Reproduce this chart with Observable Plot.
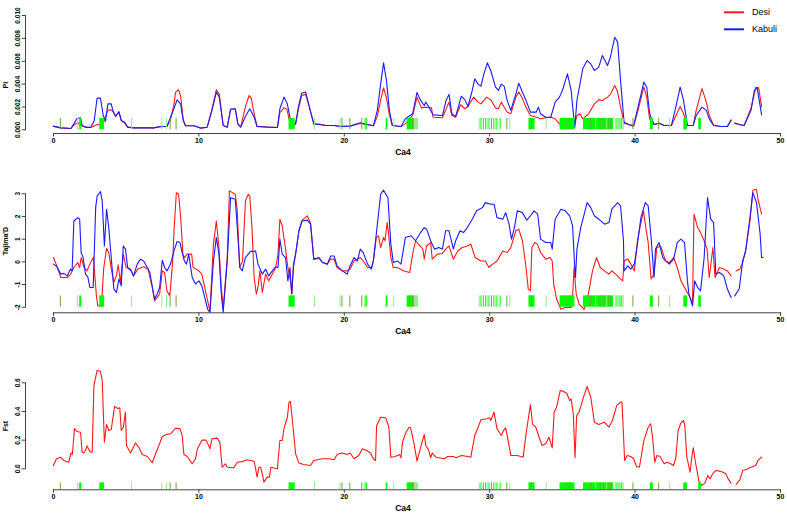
<!DOCTYPE html>
<html><head><meta charset="utf-8">
<script src="https://cdn.jsdelivr.net/npm/d3@7"></script>
<script src="https://cdn.jsdelivr.net/npm/@observablehq/plot@0.6"></script>
<style>
body{margin:0;background:#fff;}
#wrap{position:relative;width:787px;height:515px;overflow:hidden;background:#fff;}
#wrap svg{display:block;}
#legend{position:absolute;left:0;top:0;}
</style></head><body><div id="wrap"></div>
<script>
// ---------------- data ----------------
const xTicks = [0, 10, 20, 30, 40, 50];
const piTicks = [0, 2, 4, 6, 8, 10];          // Pi x 1000
const tdTicks = [-2, -1, 0, 1, 2, 3];
const fstTicks = [0, 0.2, 0.4, 0.6];
const seriesNames = ["Desi", "Kabuli"];
const seriesColors = ["#ff1a1a", "#1a1aff"];
const xLabel = "Ca4";
const panelLabels = ["Pi", "Tajima'D", "Fst"];

// Pi (x 1000) along Ca4 (Mb)
const piDesi = [[0,0.3],[0.5,0.17],[1.2,0.12],[1.4,0.4],[1.6,0.58],[1.86,0.6],[1.97,0.35],[2.2,0.23],[2.55,0.2],[2.8,0.35],[3.0,0.45],[3.23,0.47],[3.42,0.5],[3.58,1.2],[3.74,1.7],[3.97,1.75],[4.08,1.6],[4.27,1.2],[4.5,1.6],[4.66,0.82],[4.89,0.6],[5.1,0.23],[5.5,0.17],[6.9,0.17],[7.36,0.28],[7.8,0.3],[8.05,0.9],[8.28,2.2],[8.4,3.3],[8.6,3.5],[8.74,3.0],[8.92,0.9],[9.08,0.35],[9.66,0.35],[10.1,0.15],[10.57,0.23],[10.9,1.8],[11.2,3.5],[11.4,3.1],[11.67,0.4],[11.95,0.23],[12.18,1.8],[12.5,1.84],[12.68,0.52],[12.87,0.23],[13.2,2.0],[13.45,3.0],[13.6,2.8],[13.8,1.4],[14.0,0.3],[14.7,0.25],[15.4,0.2],[15.57,1.5],[15.85,1.92],[16.05,1.8],[16.26,0.6],[16.4,0.3],[16.65,0.5],[16.84,1.8],[17.07,3.0],[17.34,3.1],[17.57,2.1],[17.9,0.52],[18.26,0.5],[18.7,0.4],[19.3,0.38],[19.75,0.3],[20.4,0.33],[21.1,0.55],[21.6,0.45],[22.0,0.35],[22.27,1.2],[22.5,2.6],[22.7,3.67],[22.9,2.8],[23.1,1.3],[23.3,0.38],[23.9,0.29],[24.2,0.52],[24.7,1.25],[25.0,2.86],[25.3,1.92],[25.5,1.98],[26.0,1.92],[26.1,1.1],[26.75,1.05],[27.2,2.42],[27.4,1.25],[27.66,1.1],[28.0,2.19],[28.3,1.84],[28.5,2.04],[28.9,2.86],[29.2,2.42],[29.4,2.27],[29.8,2.86],[30.1,2.57],[30.4,1.92],[30.6,1.84],[30.8,2.42],[31.0,1.98],[31.2,1.55],[31.45,1.4],[31.8,2.86],[32.0,3.3],[32.2,2.86],[32.5,1.98],[32.8,1.25],[33.2,1.1],[33.5,0.96],[33.85,1.05],[34.2,1.1],[34.5,0.96],[34.8,0.52],[35.35,0.67],[35.6,0.5],[35.85,0.45],[36.0,1.25],[36.2,1.4],[36.4,0.96],[36.8,1.4],[37.2,2.27],[37.5,2.62],[37.75,2.57],[38.1,2.86],[38.3,3.1],[38.6,3.88],[38.8,3.3],[39.0,1.98],[39.24,0.58],[39.6,0.44],[39.9,0.3],[40.2,1.7],[40.6,3.73],[40.8,2.86],[41.0,0.96],[41.3,0.47],[41.65,0.58],[42.0,0.38],[42.5,0.38],[42.8,1.2],[43.1,2.04],[43.33,1.4],[43.6,0.38],[44.0,0.4],[44.2,1.7],[44.6,3.6],[44.9,2.42],[45.1,1.25],[45.4,0.4],[45.9,0.29],[46.35,0.3],[46.6,0.88],[46.72,null],[46.85,0.6],[47.16,0.47],[47.5,0.38],[48.0,2.0],[48.3,3.73],[48.5,3.67],[48.7,2.0]];
const piKabuli = [[0,0.32],[0.5,0.17],[1.2,0.12],[1.4,0.52],[1.6,0.96],[1.86,1.05],[1.97,0.38],[2.2,0.23],[2.55,0.2],[2.8,0.8],[3.0,2.77],[3.23,2.77],[3.42,1.25],[3.58,0.76],[3.74,2.27],[3.97,2.27],[4.08,1.7],[4.27,1.17],[4.5,1.55],[4.66,0.82],[4.89,0.67],[5.1,0.23],[5.5,0.17],[6.9,0.17],[7.36,0.29],[7.8,0.29],[8.05,1.1],[8.28,1.84],[8.5,2.62],[8.74,2.27],[8.92,0.82],[9.08,0.35],[9.66,0.35],[10.1,0.15],[10.57,0.23],[10.9,1.7],[11.2,3.3],[11.4,2.86],[11.67,0.38],[11.95,0.23],[12.18,1.8],[12.5,1.84],[12.68,0.52],[12.87,0.23],[13.2,1.17],[13.5,1.84],[13.8,1.1],[14.0,0.29],[14.7,0.23],[15.4,0.2],[15.57,1.84],[15.85,2.86],[16.08,2.27],[16.26,1.1],[16.4,0.38],[16.65,0.52],[16.84,1.98],[17.07,3.2],[17.34,3.3],[17.57,2.13],[17.9,0.52],[18.26,0.47],[18.7,0.38],[19.3,0.38],[19.75,0.29],[20.4,0.32],[21.1,0.61],[21.6,0.47],[22.0,0.35],[22.27,1.7],[22.5,4.0],[22.7,5.86],[22.9,4.3],[23.1,1.7],[23.3,0.38],[23.9,0.29],[24.2,0.96],[24.7,1.4],[25.0,3.27],[25.25,2.57],[25.5,2.13],[25.6,2.42],[25.8,2.04],[26.1,1.31],[26.75,1.25],[27.0,2.57],[27.2,3.1],[27.4,1.4],[27.66,1.17],[27.9,2.27],[28.05,2.94],[28.3,2.62],[28.5,2.04],[28.8,3.44],[28.97,4.46],[29.2,4.0],[29.4,3.82],[29.6,4.9],[29.84,5.86],[30.07,5.19],[30.4,3.73],[30.6,3.44],[30.8,4.0],[31.0,3.8],[31.2,2.57],[31.45,1.7],[31.8,3.15],[32.0,4.08],[32.2,3.44],[32.5,2.57],[32.8,1.55],[33.2,1.55],[33.35,1.98],[33.5,1.4],[33.85,1.1],[34.2,1.1],[34.5,2.42],[34.8,2.86],[35.0,3.44],[35.35,4.9],[35.6,3.44],[35.85,0.2],[36.0,2.57],[36.4,5.34],[36.7,6.06],[36.95,5.77],[37.2,5.19],[37.5,5.48],[37.75,6.5],[38.1,5.63],[38.3,6.35],[38.6,8.1],[38.8,7.67],[39.0,4.3],[39.24,0.67],[39.6,0.44],[39.9,0.38],[40.2,1.98],[40.6,4.17],[40.8,3.73],[41.0,1.4],[41.3,0.47],[41.65,0.58],[42.0,0.38],[42.5,0.38],[42.8,1.98],[43.1,3.73],[43.33,2.57],[43.6,0.38],[44.0,0.38],[44.2,1.25],[44.6,1.98],[44.9,1.7],[45.1,0.96],[45.4,0.38],[45.9,0.29],[46.35,0.29],[46.6,0.82],[46.72,null],[46.85,0.58],[47.16,0.47],[47.5,0.38],[47.97,1.7],[48.2,3.44],[48.4,3.67],[48.5,2.86],[48.7,1.3]];

// Tajima's D
const tdDesi = [[0,0.19],[0.25,-0.22],[0.5,-0.69],[0.94,-0.69],[1.17,-0.55],[1.4,-0.25],[1.67,-0.03],[1.8,-0.25],[1.9,0.19],[2.1,-0.25],[2.3,-0.4],[2.5,-0.1],[2.75,0.2],[2.95,-1.5],[3.05,-1.95],[3.3,-1.95],[3.45,-0.3],[3.65,0.6],[3.8,0.4],[4.0,-0.4],[4.15,-0.9],[4.33,-0.6],[4.45,-0.13],[4.6,-0.9],[4.8,0.34],[5.0,-0.25],[5.3,-0.32],[5.5,-0.62],[5.8,-0.32],[6.2,-0.22],[6.5,-0.32],[6.8,-1.13],[6.95,-1.72],[7.13,-1.57],[7.3,-1.42],[7.48,-0.4],[7.64,-0.47],[7.8,-1.28],[8.0,-1.5],[8.2,0.04],[8.3,1.51],[8.45,3.05],[8.6,2.98],[8.75,1.95],[8.9,0.34],[9.0,0.19],[9.2,0.34],[9.5,0.34],[9.6,-0.25],[9.8,-0.32],[10.0,-0.4],[10.2,-0.54],[10.4,-1.13],[10.6,-1.72],[10.76,-2.16],[11.0,0.78],[11.2,1.8],[11.38,0.63],[11.54,-1.13],[11.67,-2.0],[11.77,-1.28],[11.95,0.19],[12.1,3.13],[12.5,2.98],[12.64,2.25],[12.8,-0.25],[13.0,0.04],[13.2,2.69],[13.4,2.98],[13.5,2.9],[13.65,1.51],[13.8,-0.69],[13.95,-1.42],[14.06,-1.13],[14.2,-0.4],[14.36,-1.35],[14.59,-0.54],[14.8,-0.84],[15.05,-0.54],[15.28,-0.25],[15.44,0.34],[15.57,1.88],[15.73,1.59],[15.96,0.56],[16.12,-0.25],[16.3,-0.84],[16.4,-1.42],[16.5,-0.1],[16.65,0.34],[16.88,1.37],[17.1,1.84],[17.45,2.03],[17.68,1.7],[17.9,0.12],[18.26,0.15],[18.5,-0.03],[18.83,-0.1],[19.06,0.12],[19.3,0.12],[19.5,-0.25],[19.86,-0.4],[20.2,-0.4],[20.4,-0.32],[20.67,0.04],[21.1,0.19],[21.3,0.04],[21.6,-0.25],[21.86,-0.25],[22.0,0.04],[22.2,1.07],[22.35,1.15],[22.5,0.63],[22.7,1.07],[22.8,0.93],[22.95,1.73],[23.05,1.22],[23.2,0.19],[23.37,-0.25],[23.65,-0.25],[24.1,-0.4],[24.5,-0.47],[24.7,0.34],[24.9,0.93],[25.1,0.78],[25.4,0.56],[25.5,0.12],[25.66,0.7],[25.94,0.85],[26.05,0.12],[26.4,0.34],[26.75,0.37],[26.97,0.56],[27.2,0.7],[27.5,0.12],[27.8,0.48],[28.1,0.63],[28.46,0.7],[28.7,0.78],[29.0,0.19],[29.4,0.04],[29.7,0.04],[29.95,-0.25],[30.2,-0.1],[30.5,0.04],[30.9,0.48],[31.2,0.41],[31.45,0.63],[31.8,1.37],[32.0,1.44],[32.25,0.93],[32.5,-0.25],[32.65,-1.2],[32.8,-1.28],[32.9,0.63],[33.1,0.85],[33.28,0.78],[33.5,0.41],[33.85,0.12],[34.15,0.19],[34.3,0.04],[34.4,-0.98],[34.6,-1.64],[34.9,-2.09],[35.2,-2.01],[35.6,-2.01],[35.7,-1.57],[35.8,-0.25],[35.95,-1.42],[36.15,-1.86],[36.5,-2.09],[36.7,-1.72],[37.07,-0.4],[37.35,0.19],[37.6,-0.25],[37.9,-0.4],[38.2,-0.54],[38.4,-0.4],[38.8,-0.62],[39.0,-0.76],[39.15,-0.84],[39.24,0.04],[39.5,0.12],[39.7,-0.1],[39.95,-0.4],[40.16,0.93],[40.4,1.73],[40.58,2.25],[40.7,1.66],[40.9,0.85],[41.1,-0.76],[41.3,-0.54],[41.5,0.63],[41.75,0.7],[42.1,0.04],[42.35,-0.03],[42.65,0.19],[42.9,-0.25],[43.15,-0.84],[43.4,-1.13],[43.65,-1.42],[43.95,-1.79],[44.05,2.1],[44.3,1.51],[44.5,1.29],[44.75,0.93],[44.95,0.56],[45.1,-0.69],[45.35,0.63],[45.5,-0.69],[45.8,-0.25],[46.1,-0.32],[46.35,-0.4],[46.6,-0.62],[46.72,null],[46.95,-0.4],[47.2,-0.32],[47.4,-0.03],[47.6,0.48],[47.9,1.8],[48.1,3.16],[48.35,3.2],[48.45,2.76],[48.7,2.1]];
const tdKabuli = [[0,-0.1],[0.25,-0.22],[0.5,-0.54],[0.7,-0.51],[0.94,-0.62],[1.17,-0.32],[1.28,-0.4],[1.4,1.8],[1.67,1.95],[1.8,1.88],[1.9,0.41],[2.04,0.19],[2.2,-0.54],[2.36,-0.66],[2.5,-1.13],[2.73,-1.13],[2.9,2.39],[3.0,2.9],[3.23,3.1],[3.35,2.69],[3.5,0.7],[3.65,2.32],[3.8,1.51],[3.97,0.19],[4.15,-1.2],[4.33,-1.35],[4.5,-0.76],[4.66,-1.06],[4.8,0.7],[4.95,0.56],[5.1,-0.25],[5.34,-0.4],[5.5,-0.62],[5.76,-0.1],[5.99,0.12],[6.2,0.04],[6.45,-0.25],[6.63,-0.47],[6.8,-1.13],[6.95,-1.64],[7.13,-1.42],[7.3,-1.13],[7.48,0.07],[7.64,-0.25],[7.8,-0.4],[8.05,-0.1],[8.28,0.48],[8.5,0.9],[8.7,0.85],[8.85,0.41],[9.0,0.04],[9.15,-0.1],[9.3,0.34],[9.54,-0.69],[9.77,-0.98],[10.0,-0.84],[10.2,-1.06],[10.46,-1.72],[10.6,-2.09],[10.76,-2.23],[11.0,0.04],[11.2,1.07],[11.38,0.34],[11.54,-1.42],[11.67,-2.23],[11.77,-1.42],[11.95,0.04],[12.18,2.83],[12.5,2.76],[12.64,1.51],[12.82,-0.25],[12.98,-0.4],[13.2,0.19],[13.55,0.46],[13.9,0.48],[14.06,-0.1],[14.36,-0.54],[14.59,-0.32],[14.8,-0.62],[15.05,-0.4],[15.28,-0.22],[15.44,-0.25],[15.57,1.0],[15.73,0.34],[15.96,0.19],[16.12,-0.84],[16.26,-0.25],[16.38,-1.42],[16.5,-0.25],[16.65,0.34],[16.88,1.37],[17.1,1.8],[17.45,1.84],[17.68,1.66],[17.9,0.12],[18.26,0.19],[18.5,-0.03],[18.83,-0.1],[19.06,0.26],[19.3,0.26],[19.5,-0.18],[19.86,-0.4],[20.2,-0.54],[20.4,-0.18],[20.67,0.19],[20.9,0.04],[21.1,0.56],[21.3,0.41],[21.6,-0.1],[21.86,-0.32],[22.0,0.04],[22.2,1.22],[22.5,2.98],[22.7,3.16],[23.0,2.83],[23.2,0.78],[23.37,-0.03],[23.65,0.04],[23.9,-0.1],[24.2,1.07],[24.6,1.15],[24.9,0.93],[25.25,1.29],[25.5,1.51],[25.66,1.44],[25.94,0.93],[26.2,0.56],[26.5,0.63],[26.75,0.56],[26.97,1.37],[27.2,1.37],[27.5,0.56],[27.66,0.93],[27.96,1.37],[28.2,1.29],[28.46,1.51],[28.8,1.88],[29.1,2.25],[29.5,2.39],[29.7,2.61],[30.07,2.54],[30.3,2.54],[30.5,1.95],[30.9,1.88],[31.1,2.17],[31.33,1.66],[31.5,1.0],[31.7,1.51],[31.9,2.25],[32.25,2.17],[32.55,1.84],[32.8,2.03],[33.05,2.25],[33.3,2.1],[33.5,1.0],[33.85,0.85],[34.2,0.85],[34.3,0.56],[34.5,1.88],[34.9,2.32],[35.2,2.25],[35.5,2.03],[35.7,1.59],[35.85,-0.25],[35.9,-0.69],[36.0,0.56],[36.26,1.51],[36.5,2.1],[36.7,2.61],[36.95,2.39],[37.2,2.03],[37.5,1.88],[37.9,1.66],[38.2,1.73],[38.4,2.32],[38.8,2.61],[39.0,2.47],[39.2,0.93],[39.24,-0.4],[39.5,-0.18],[39.7,-0.32],[39.95,-0.1],[40.16,0.78],[40.4,1.95],[40.7,2.61],[40.9,2.47],[41.1,1.07],[41.3,-0.69],[41.4,0.56],[41.65,0.85],[41.9,0.19],[42.1,0.04],[42.35,-0.1],[42.65,0.12],[42.9,0.85],[43.15,1.0],[43.4,0.85],[43.6,-0.84],[43.7,-1.42],[43.95,-1.94],[44.1,-0.84],[44.3,-1.13],[44.5,-1.28],[44.75,0.19],[44.98,2.83],[45.2,1.88],[45.4,1.73],[45.55,-0.54],[45.8,-0.47],[46.1,-0.62],[46.35,-1.2],[46.6,-1.57],[46.72,null],[46.85,-1.5],[47.16,-1.2],[47.4,0.04],[47.6,0.48],[47.9,1.95],[48.1,3.05],[48.35,2.61],[48.6,1.22],[48.7,0.19],[48.8,0.19]];

// Fst
const fst = [[0,0.023],[0.2,0.07],[0.5,0.08],[0.7,0.058],[1.05,0.046],[1.2,0.11],[1.3,0.1],[1.44,0.28],[1.63,0.26],[1.86,0.255],[1.97,0.116],[2.09,0.11],[2.2,0.13],[2.3,0.16],[2.5,0.12],[2.66,0.116],[2.78,0.58],[3.0,0.686],[3.23,0.68],[3.35,0.616],[3.5,0.186],[3.65,0.31],[3.8,0.267],[3.97,0.274],[4.2,0.435],[4.43,0.42],[4.56,0.425],[4.66,0.267],[4.8,0.29],[4.95,0.395],[5.02,0.163],[5.3,0.11],[5.64,0.18],[5.87,0.15],[6.1,0.1],[6.45,0.086],[6.8,0.042],[7.0,0.1],[7.25,0.163],[7.48,0.225],[7.78,0.24],[8.05,0.244],[8.4,0.283],[8.7,0.28],[8.85,0.232],[8.97,0.1],[9.2,0.086],[9.54,0.035],[9.77,0.07],[9.9,0.14],[10.2,0.2],[10.5,0.2],[10.76,0.14],[10.9,0.21],[11.26,0.214],[11.44,0.186],[11.6,0.011],[11.83,0.035],[11.95,0.011],[12.4,0.007],[12.64,0.046],[12.98,0.05],[13.3,0.063],[13.8,0.053],[13.88,0.011],[14.0,-0.058],[14.13,0.011],[14.24,0.011],[14.36,-0.035],[14.47,-0.093],[14.7,-0.058],[14.85,-0.058],[14.95,0.011],[15.16,0.005],[15.4,0],[15.57,0.197],[15.73,0.197],[15.87,0.29],[16.08,0.356],[16.2,0.465],[16.3,0.47],[16.5,0.267],[16.65,0.104],[16.88,0.04],[17.2,0.03],[17.68,0.023],[17.9,0.058],[18.5,0.07],[18.95,0.07],[19.3,0.063],[19.5,0.1],[19.86,0.11],[20.2,0.1],[20.4,0.11],[20.67,0.07],[21.0,0.093],[21.24,0.14],[21.54,0.128],[21.8,0.11],[22.0,0.07],[22.15,0.058],[22.22,0.3],[22.5,0.36],[22.85,0.356],[23.07,0.29],[23.2,0.08],[23.5,0.086],[23.8,0.1],[23.9,0.077],[24.0,0.186],[24.2,0.244],[24.45,0.29],[24.56,0.286],[24.8,0.174],[25.0,0.053],[25.25,0.15],[25.5,0.24],[25.6,0.163],[25.8,0.132],[25.94,0.077],[26.05,0.11],[26.3,0.081],[26.9,0.07],[27.1,0.086],[27.5,0.086],[27.7,0.077],[28.05,0.093],[28.5,0.086],[28.7,0.081],[28.97,0.232],[29.2,0.29],[29.4,0.342],[29.8,0.349],[30.0,0.356],[30.07,0.337],[30.3,0.395],[30.5,0.279],[30.8,0.232],[30.95,0.267],[31.1,0.286],[31.27,0.197],[31.45,0.093],[31.9,0.093],[32.3,0.081],[32.5,0.244],[32.8,0.448],[32.94,0.314],[33.17,0.29],[33.4,0.22],[33.6,0.163],[33.85,0.174],[34.08,0.22],[34.3,0.146],[34.43,0.395],[34.6,0.43],[34.85,0.546],[35.07,0.54],[35.3,0.527],[35.5,0.476],[35.6,0.488],[35.75,0.383],[35.87,0.077],[35.98,0.372],[36.15,0.395],[36.45,0.5],[36.7,0.574],[36.95,0.5],[37.2,0.325],[37.5,0.309],[37.87,0.325],[38.2,0.29],[38.44,0.337],[38.74,0.442],[39.0,0.465],[39.1,0.465],[39.28,0.058],[39.45,0.093],[39.7,0.086],[39.9,0.07],[40.1,0.016],[40.3,0.011],[40.6,0.197],[40.9,0.29],[41.07,0.314],[41.2,0.22],[41.35,0.046],[41.5,0.093],[41.72,0.086],[42.0,0.035],[42.2,0.046],[42.45,0.035],[42.64,0.023],[42.8,0.077],[42.96,0.267],[43.14,0.318],[43.33,0.337],[43.42,0.302],[43.55,0.086],[43.78,-0.023],[43.9,0.081],[44.0,0.146],[44.17,0.035],[44.4,-0.093],[44.6,-0.116],[44.8,-0.1],[45.0,-0.047],[45.16,-0.07],[45.33,-0.035],[45.55,-0.012],[45.8,-0.016],[46.0,-0.023],[46.24,-0.035],[46.4,-0.07],[46.6,-0.1],[46.72,null],[46.95,-0.109],[47.2,-0.077],[47.4,-0.012],[47.6,-0.007],[47.97,0.011],[48.3,0.023],[48.45,0.058],[48.7,0.081]];

// green marker ticks along Ca4: [start, end, shade] (b bright, l light, o olive)
const markers = [[0.47,0.54,"o"],[1.64,1.71,"l"],[1.80,1.95,"b"],[3.18,3.52,"b"],[5.37,5.44,"l"],[7.45,7.52,"l"],[7.77,7.84,"l"],[8.02,8.09,"o"],[8.43,8.5,"o"],[16.2,16.62,"b"],[17.95,18.02,"l"],[19.7,19.77,"l"],[19.84,19.91,"o"],[20.38,20.45,"o"],[21.2,21.27,"o"],[21.43,21.5,"b"],[21.54,21.61,"b"],[22.88,23.0,"b"],[23.4,23.47,"l"],[24.32,24.85,"b"],[24.5,24.56,"o"],[24.7,24.76,"o"],[24.85,25.1,"l"],[29.28,29.35,"l"],[29.4,29.47,"b"],[29.56,29.63,"b"],[29.72,29.79,"b"],[29.83,29.9,"l"],[29.95,30.02,"b"],[30.12,30.19,"o"],[30.28,30.35,"b"],[30.44,30.51,"b"],[30.55,30.62,"l"],[30.72,30.79,"b"],[31.18,31.25,"o"],[31.38,31.45,"l"],[32.7,33.12,"b"],[32.88,32.94,"o"],[33.88,33.95,"l"],[34.84,35.86,"b"],[35.25,35.31,"o"],[35.5,35.56,"o"],[36.45,38.52,"b"],[36.95,37.01,"o"],[37.3,37.36,"l"],[37.6,37.66,"o"],[37.85,37.91,"o"],[38.05,38.11,"l"],[38.2,38.26,"o"],[38.35,38.41,"o"],[38.64,38.71,"l"],[38.75,38.82,"b"],[38.86,38.93,"l"],[38.96,39.03,"b"],[39.08,39.15,"b"],[39.18,39.25,"l"],[39.85,39.92,"o"],[41.05,41.25,"b"],[41.62,41.69,"o"],[42.38,42.45,"l"],[43.35,43.6,"b"],[44.38,44.56,"b"]];
const shadeColors = {b: "#00ff00", l: "#8fee8f", o: "#6fa838"};

// ---------------- drawing ----------------
const font = "'Liberation Sans', Arial, sans-serif";
function panel(o) {
  return Plot.plot({
    width: 787, height: o.height,
    marginLeft: 25, marginRight: 7, marginTop: o.marginTop, marginBottom: o.marginBottom,
    x: {domain: [0, 50], range: [53, 780]},
    y: {domain: o.yDomain, range: o.yRange},
    color: {type: "identity"},
    style: {fontFamily: font, background: "white", color: "black", overflow: "visible"},
    marks: [
      ...o.series.map((s, i) => Plot.line(s, {x: d => d[0], y: d => d[1], stroke: o.colors[i], strokeWidth: 1.1})),
      Plot.rect(markers, {x1: d => d[0], x2: d => d[1], y1: o.band[0], y2: o.band[1], fill: d => shadeColors[d[2]]}),
      Plot.frame({anchor: "bottom", insetLeft: 28, stroke: "#444"}),
      Plot.frame({anchor: "left", insetBottom: o.axisInset, stroke: "#444"}),
      Plot.axisX({ticks: xTicks, tickSize: 3.5, tickPadding: 1, fontSize: 7, fontWeight: "bold", stroke: "#444", label: null}),
      Plot.axisY({ticks: o.yTicks, tickFormat: o.yFormat, tickSize: 3.3, tickPadding: 2, tickRotate: -90, fontSize: 6.5, fontWeight: "bold", stroke: "#444", label: null}),
      Plot.text([o.yLabel], {frameAnchor: "left", dx: -19.5, dy: o.labelDy, rotate: -90, fontSize: 7, fontWeight: "bold"}),
      Plot.text([xLabel], {frameAnchor: "bottom", dy: 21, fontSize: 8.5, fontWeight: "bold"})
    ]
  });
}

const wrap = document.getElementById("wrap");
wrap.append(panel({
  height: 160, marginTop: 15, marginBottom: 27, yDomain: [0, 10], yRange: [129.3, 15], axisInset: 3.7,
  yTicks: piTicks, yFormat: d => (d / 1000).toFixed(3), yLabel: panelLabels[0], labelDy: 14,
  series: [piDesi, piKabuli], colors: seriesColors, band: [0, 1]
}));
wrap.append(panel({
  height: 178, marginTop: 33.3, marginBottom: 25.7, yDomain: [-2, 3], yRange: [146.7, 33.3], axisInset: 5.6,
  yTicks: tdTicks, yFormat: d => String(d), yLabel: panelLabels[1], labelDy: 2,
  series: [tdDesi, tdKabuli], colors: seriesColors, band: [-2, -1.5]
}));
wrap.append(panel({
  height: 177, marginTop: 44.3, marginBottom: 25.7, yDomain: [0, 0.6], yRange: [130.3, 44.3], axisInset: 21,
  yTicks: fstTicks, yFormat: d => d.toFixed(1), yLabel: panelLabels[2], labelDy: -5,
  series: [fst], colors: [seriesColors[0]], band: [-0.146, -0.098]
}));

// legend (top right, overlapping the first panel like the original)
const leg = d3.select(wrap).append("svg").attr("id", "legend").attr("width", 787).attr("height", 40);
const items = leg.selectAll("g").data(seriesNames).join("g")
  .attr("transform", (d, i) => `translate(724,${12.3 + i * 17})`);
items.append("line").attr("x1", 0).attr("x2", 20).attr("stroke", (d, i) => seriesColors[i]).attr("stroke-width", 2);
items.append("text").attr("x", 28).attr("dy", "0.35em").attr("font-family", font).attr("font-size", 9).text(d => d);
</script></body></html>
